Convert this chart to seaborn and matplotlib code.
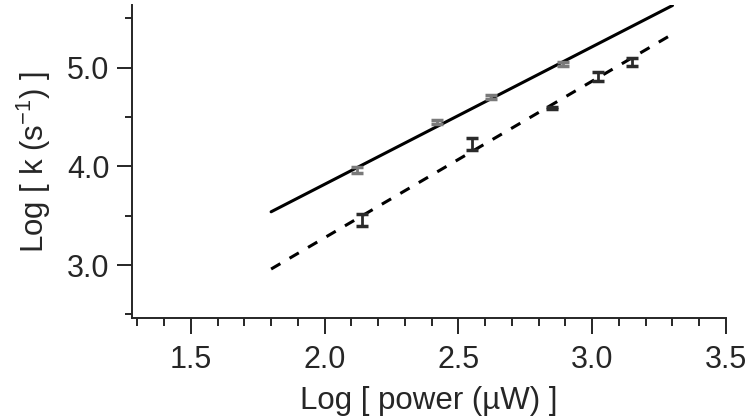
import numpy as np
import matplotlib
matplotlib.use("Agg")
import matplotlib.pyplot as plt
from matplotlib.ticker import MultipleLocator, FormatStrFormatter
import seaborn as sns

# data
x_gray = [2.12, 2.42, 2.62, 2.89]
y_gray = [3.96, 4.45, 4.70, 5.04]
err_gray = [0.03, 0.02, 0.02, 0.02]

x_black = [2.14, 2.55, 2.85, 3.02, 3.15]
y_black = [3.46, 4.23, 4.59, 4.91, 5.06]
err_black = [0.06, 0.06, 0.01, 0.05, 0.04]

fit_x = [1.80, 3.30]
fit_solid = [3.54, 5.63]
fit_dashed = [2.96, 5.34]

sns.set_style("ticks")
plt.rcParams['font.family'] = ['Liberation Sans', 'DejaVu Sans']
plt.rcParams['mathtext.fontset'] = 'custom'
plt.rcParams['mathtext.rm'] = 'Liberation Sans'
plt.rcParams['mathtext.it'] = 'Liberation Sans'

fig = plt.figure(figsize=(7.52, 4.18), dpi=100)
ax = fig.add_axes([131.7 / 752, 99.7 / 418, 594.3 / 752, 313.3 / 418])

sns.lineplot(x=fit_x, y=fit_solid, color="black", linewidth=2.2, ax=ax)
sns.lineplot(x=fit_x, y=fit_dashed, color="black", linewidth=2.2, ax=ax)
ax.lines[1].set_dashes([3.5, 3.5])

ax.errorbar(x_gray, y_gray, yerr=err_gray, fmt='none', ecolor="#7a7a7a",
            elinewidth=2, capsize=4.5, capthick=2.5)
ax.errorbar(x_black, y_black, yerr=err_black, fmt='none', ecolor="#2b2b2b",
            elinewidth=2, capsize=4.5, capthick=2.5)

ax.set_xlim(1.279, 3.5)
ax.set_ylim(2.461, 5.635)

ax.xaxis.set_major_locator(MultipleLocator(0.5))
ax.xaxis.set_minor_locator(MultipleLocator(0.1))
ax.yaxis.set_major_locator(MultipleLocator(1.0))
ax.yaxis.set_minor_locator(MultipleLocator(0.5))
ax.xaxis.set_major_formatter(FormatStrFormatter("%.1f"))
ax.yaxis.set_major_formatter(FormatStrFormatter("%.1f"))

ax.tick_params(axis='x', which='major', length=11.5, width=1.4, direction='out', labelsize=22, pad=8)
ax.tick_params(axis='x', which='minor', length=6, width=1.4, direction='out')
ax.tick_params(axis='y', which='major', length=11, width=1.4, direction='out', labelsize=22, pad=5)
ax.tick_params(axis='y', which='minor', length=5, width=1.4, direction='out')

for s in ['top', 'right']:
    ax.spines[s].set_visible(False)
for s in ['left', 'bottom']:
    ax.spines[s].set_linewidth(1.4)

ax.set_xlabel("Log [ power (µW) ]", fontsize=22.5, labelpad=8)
ax.set_ylabel(r"Log [ k (s$^{-1}$) ]", fontsize=22.5, labelpad=10)

fig.savefig("out.png", dpi=100)
